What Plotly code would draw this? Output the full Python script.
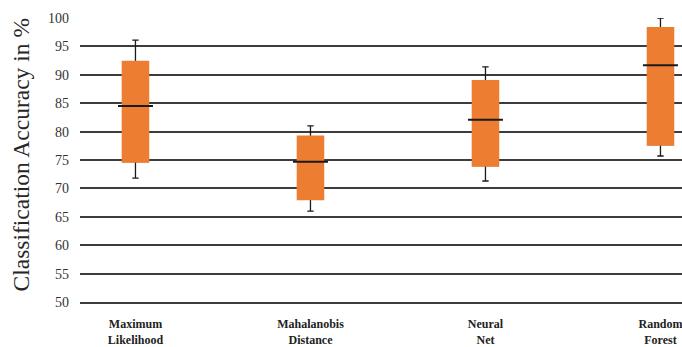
import plotly.graph_objects as go

# Classification accuracy (%) summary statistics per classifier
classifiers = ["Maximum<br>Likelihood", "Mahalanobis<br>Distance", "Neural<br>Net", "Random<br>Forest"]
lower_whisker = [71.8, 66.0, 71.3, 75.7]
q1 = [74.7, 68.1, 74.0, 77.7]
median = [84.5, 74.7, 82.1, 91.7]
q3 = [92.3, 79.1, 88.9, 98.2]
upper_whisker = [96.1, 81.0, 91.4, 100.0]

ORANGE = "#ED7D31"
BOX_W = 0.145

fig = go.Figure()

# Whiskers with caps (box body is painted over by the next trace)
fig.add_trace(go.Box(
    x=classifiers, q1=q1, median=median, q3=q3,
    lowerfence=lower_whisker, upperfence=upper_whisker,
    width=BOX_W, whiskerwidth=0.25,
    fillcolor=ORANGE, line=dict(color="#1a1a1a", width=1.3),
    boxpoints=False, hoverinfo="skip", showlegend=False,
))

# Solid orange interquartile box
fig.add_trace(go.Box(
    x=classifiers, q1=q1, median=q3, q3=q3,
    lowerfence=q1, upperfence=q3,
    width=BOX_W, whiskerwidth=0,
    fillcolor=ORANGE, line=dict(color=ORANGE, width=2.2),
    boxpoints=False, hoverinfo="skip", showlegend=False,
))

# Median bars
fig.add_trace(go.Scatter(
    x=classifiers, y=median, mode="markers",
    marker=dict(symbol="line-ew", size=25, line=dict(color="#1a1a1a", width=2)),
    hoverinfo="skip", showlegend=False,
))

fig.update_layout(
    width=682, height=347,
    margin=dict(l=80, r=0, t=18, b=45),
    paper_bgcolor="white", plot_bgcolor="white",
    boxmode="overlay",
    font=dict(family="Liberation Serif, Times New Roman, serif", color="#262626"),
    xaxis=dict(
        type="category", range=[-0.317, 3.123],
        showgrid=False, zeroline=False, ticks="",
        showline=True, linecolor="#3c3c3c", linewidth=1.6,
        tickfont=dict(size=12, family="Liberation Serif, serif", weight="bold", color="#222"),
        ticklabelstandoff=10,
    ),
    yaxis=dict(
        range=[50, 100], tick0=50, dtick=5,
        showgrid=True, gridcolor="#3c3c3c", gridwidth=1.6,
        showline=False, zeroline=False, ticks="",
        tickfont=dict(size=14, color="#333"),
        ticklabelstandoff=10,
    ),
    annotations=[dict(
        text="Classification Accuracy in %",
        xref="paper", yref="paper", x=-0.098, y=0.516,
        xanchor="center", yanchor="middle", textangle=-90,
        showarrow=False, font=dict(size=23.5, color="#262626"),
    )],
)

fig.write_html("out.html")
